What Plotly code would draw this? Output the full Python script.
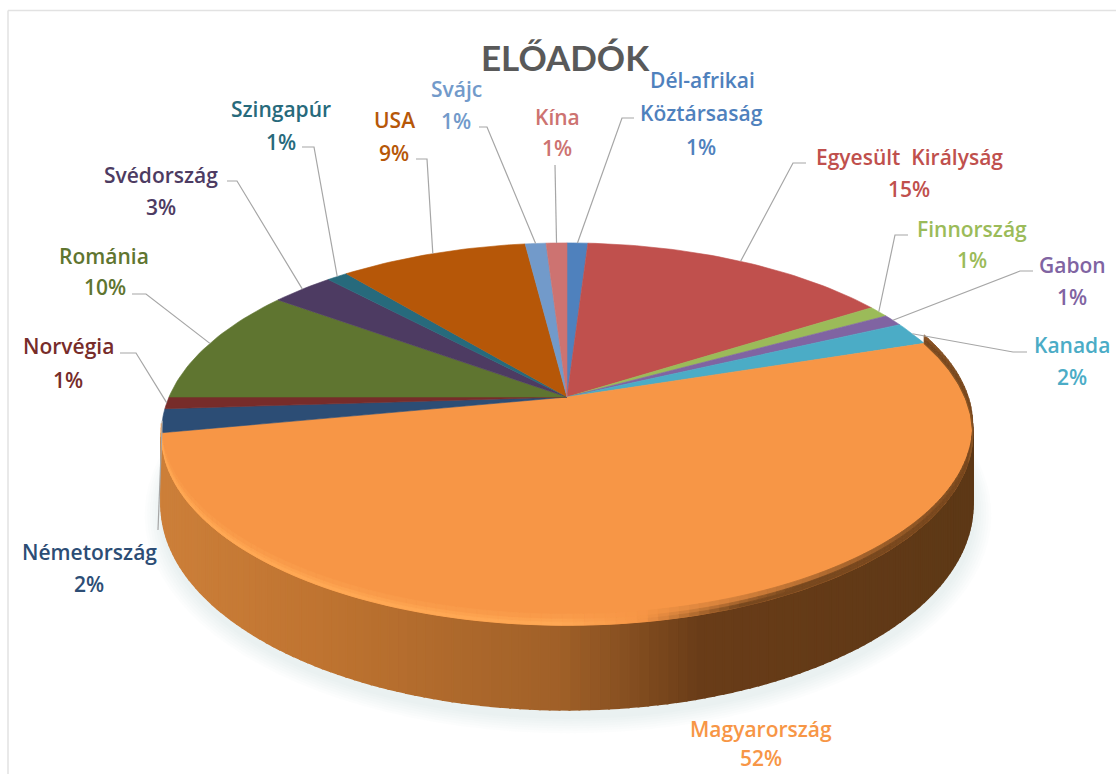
import math
import plotly.graph_objects as go

# ---- data ----
countries = ["Dél-afrikai<br>Köztársaság", "Egyesült  Királyság", "Finnország", "Gabon", "Kanada",
             "Magyarország", "Németország", "Norvégia", "Románia", "Svédország",
             "Szingapúr", "USA", "Svájc", "Kína"]
values = [1, 15, 1, 1, 2, 52, 2, 1, 10, 3, 1, 9, 1, 1]
colors = ["#4F81BD", "#C0504D", "#9BBB59", "#8064A2", "#4BACC6", "#F79646", "#2C4D75",
          "#772C2A", "#5F7530", "#4D3B62", "#276A7C", "#B65708", "#729ACA", "#CD7371"]
title_text = "ELŐADÓK"

# ---- layout constants ----
W, H = 1116, 774
CX, CY = 567, 397          # pie centre as seen on the page
RX, KY, P = 398, 184, 0.194  # radius, vertical scale, perspective
DEPTH = 68
FONT = "Open Sans"
LABEL_SIZE = 21

# label line centres: one (x, y) per text line
label_pos = [
    [(702, 80), (701, 113), (701, 147)],
    [(909, 157), (909, 189)],
    [(972, 229), (972, 260)],
    [(1072, 265), (1072, 297)],
    [(1072, 345), (1072, 377)],
    [(761, 729), (761, 758)],
    [(89, 552), (89, 584)],
    [(68, 346), (68, 380)],
    [(104, 256), (105, 287)],
    [(161, 175), (161, 207)],
    [(281, 109), (281, 142)],
    [(394, 120), (394, 153)],
    [(456, 89), (456, 121)],
    [(557, 117), (557, 148)],
]
# leader polyline starts (label side); the slice end is computed from the values
leaders = [
    [(634, 118), (622, 118)],
    [(806, 163), (793, 163)],
    [(908, 235), (895, 235)],
    [(1033, 271), (1020, 271)],
    [(1027, 352), (1013, 352)],
    None,
    [(158, 530)],
    [(120, 353), (136, 353)],
    [(132, 294), (146, 294)],
    [(227, 181), (237, 181)],
    [(302, 147), (314, 147)],
    [(416, 159), (427, 159)],
    [(479, 127), (487, 127)],
    [(555, 165)],
]


def project(pct, r=1.0, drop=0.0):
    """Map a cumulative percentage and radius onto the tilted pie."""
    a = 2 * math.pi * pct / 100
    u, v = r * math.sin(a), -r * math.cos(a)
    w = 1 - P * v
    return CX + RX * u / w, CY + (KY * v + drop) / w


def mix(c1, c2, t):
    t = max(0, min(1, t))
    return "#%02X%02X%02X" % tuple(round(a + (b - a) * t) for a, b in zip(c1, c2))


def wall_color(x):
    stops = [(150, (205, 128, 58)), (330, (190, 115, 48)), (560, (160, 96, 40)),
             (700, (105, 60, 24)), (985, (92, 56, 22))]
    for (x0, c0), (x1, c1) in zip(stops, stops[1:]):
        if x <= x1:
            return mix(c0, c1, (x - x0) / (x1 - x0))
    return mix(stops[-1][1], stops[-1][1], 0)


def poly(fig, pts, color, opacity=1.0, lw=0.6):
    fig.add_trace(go.Scatter(
        x=[p[0] for p in pts] + [pts[0][0]], y=[p[1] for p in pts] + [pts[0][1]],
        mode="lines", fill="toself", fillcolor=color, opacity=opacity,
        line=dict(color=color, width=lw), hoverinfo="skip", showlegend=False))


fig = go.Figure()

starts = []
c = 0
for v in values:
    starts.append(c)
    c += v
total = c
mag = countries.index("Magyarország")
m0, m1 = starts[mag], starts[mag] + values[mag]

# soft shadow
for i in range(7, 0, -1):
    e = i * 2.6
    pts = []
    for k in range(0, 121):
        x, y = project(k * total / 120, 1.0, DEPTH + 4)
        pts.append((CX + (x - CX) * (1 + e / 420) + 1, 441 + (y - 441) * (1 + e / 300) + 2))
    poly(fig, pts, "#B4C0CA", 0.035, 0)

# outer wall of the big slice (the first sliver stays hidden behind the top)
n = 150
w0 = m0 + 4
for k in range(n):
    a = w0 + (m1 - w0) * k / n
    b = w0 + (m1 - w0) * (k + 1) / n
    p1, p2 = project(a), project(b)
    p3, p4 = project(b, 1, DEPTH), project(a, 1, DEPTH)
    poly(fig, [p1, p2, p3, p4], wall_color((p1[0] + p2[0]) / 2), lw=2)

# top surface slices, computed from the values
for s, v, col in zip(starts, values, colors):
    steps = max(4, v * 3)
    pts = [(CX, CY)] + [project(s + v * k / steps) for k in range(steps + 1)]
    poly(fig, pts, col)

# bevel along the front rim of the big slice: bands lifted from the rim
base = (247, 150, 70)
light = (255, 168, 84)
dark = (120, 72, 30)
bands = [(-9, -5, 0.3), (-5, -2.5, 0.65), (-2.5, 0, 1.0)]
for d0, d1, strength in bands:
    for k in range(n):
        a = m0 + (m1 - m0) * k / n
        b = m0 + (m1 - m0) * (k + 1) / n
        p1, p2 = project(a, 1, d0), project(b, 1, d0)
        p3, p4 = project(b, 1, d1), project(a, 1, d1)
        x = (p1[0] + p2[0]) / 2
        if x < 640:
            col = mix(base, light, strength * (1 if x < 560 else (640 - x) / 80))
        else:
            col = mix(base, dark, strength * (x - 640) / 100)
        poly(fig, [p1, p2, p3, p4], col, lw=0.8)

# thin dark edge on the far right of the big slice
edge = [project(m0 + (m1 - m0) * k / 40) for k in range(0, 9)]
fig.add_trace(go.Scatter(x=[p[0] for p in edge], y=[p[1] for p in edge], mode="lines",
                         line=dict(color="#8A5524", width=1.3), hoverinfo="skip", showlegend=False))

# leader lines
for s, v, lead in zip(starts, values, leaders):
    if lead is None:
        continue
    end = project(s + v / 2)
    fig.add_trace(go.Scatter(
        x=[p[0] for p in lead] + [end[0]], y=[p[1] for p in lead] + [end[1]],
        mode="lines", line=dict(color="#A6A6A6", width=1.2), hoverinfo="skip", showlegend=False))

# labels
annotations = []
for name, v, col, pos in zip(countries, values, colors, label_pos):
    for text, (x, y) in zip(name.split("<br>") + [f"{v}%"], pos):
        annotations.append(dict(x=x, y=y, xref="x", yref="y", text=text, showarrow=False,
                                xanchor="center", yanchor="middle",
                                font=dict(family=FONT, size=LABEL_SIZE, color=col, weight=600)))
annotations.append(dict(x=565, y=57, xref="x", yref="y", text=title_text, showarrow=False,
                        xanchor="center", yanchor="middle",
                        font=dict(family="Lato", size=35, color="#595959", weight=700)))

fig.update_layout(
    width=W, height=H, margin=dict(l=0, r=0, t=0, b=0, pad=0), autosize=False,
    paper_bgcolor="white", plot_bgcolor="white", showlegend=False,
    xaxis=dict(range=[0, W], visible=False, fixedrange=True),
    yaxis=dict(range=[H, 0], visible=False, fixedrange=True),
    annotations=annotations,
    shapes=[
        dict(type="line", xref="x", yref="y", x0=8, y0=10.5, x1=W, y1=10.5,
             line=dict(color="#E2E2E2", width=1.5), layer="below"),
        dict(type="line", xref="x", yref="y", x0=8, y0=10.5, x1=8, y1=H,
             line=dict(color="#E2E2E2", width=1.5), layer="below"),
    ],
)

fig.write_html("out.html", config={"displayModeBar": False},
               post_script="document.body.style.margin='0';document.body.style.overflow='hidden';")
